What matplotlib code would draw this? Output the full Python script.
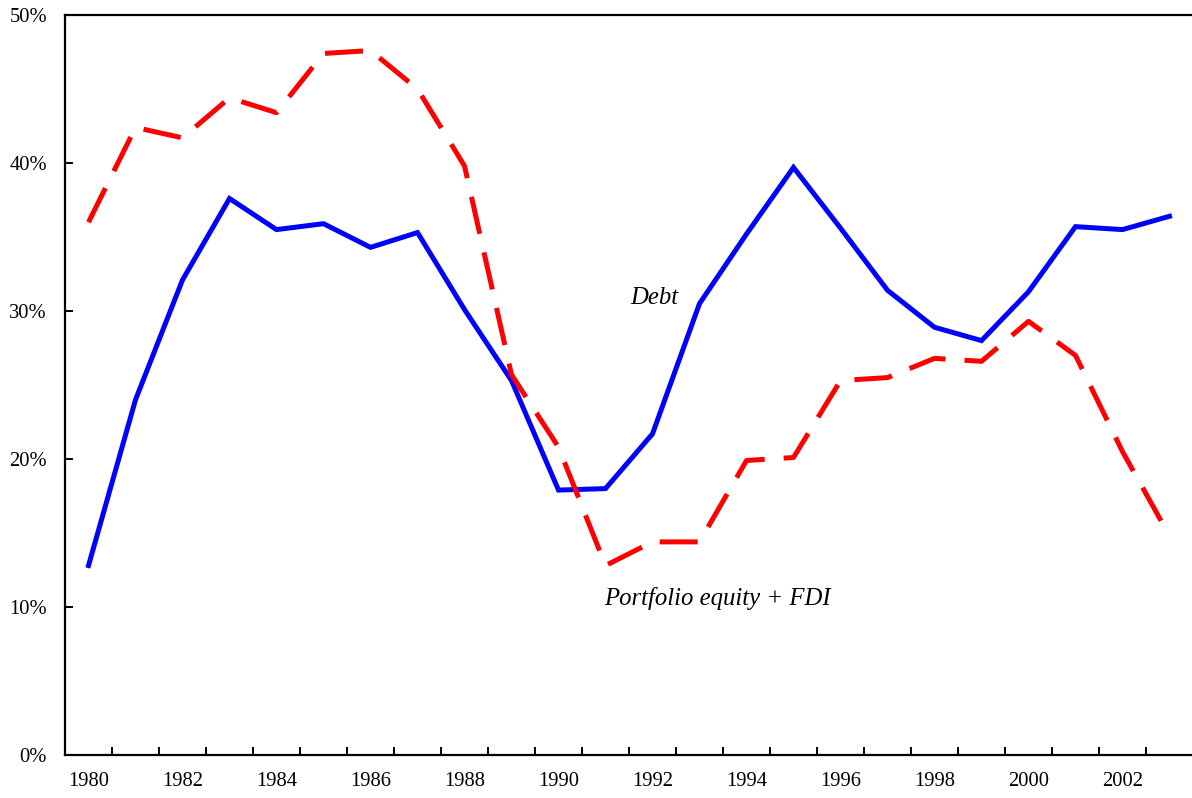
import matplotlib
matplotlib.use("Agg")
import matplotlib.pyplot as plt
from matplotlib.ticker import FixedLocator, FuncFormatter

years = list(range(1980, 2004))
debt = [12.8, 24.0, 32.1, 37.6, 35.5, 35.9, 34.3, 35.3, 30.1, 25.3, 17.9, 18.0,
        21.7, 30.5, 35.2, 39.7, 35.6, 31.4, 28.9, 28.0, 31.3, 35.7, 35.5, 36.4]
equity_fdi = [36.0, 42.4, 41.7, 44.4, 43.4, 47.4, 47.6, 45.0, 39.8, 25.7, 20.8, 12.8,
              14.4, 14.4, 19.9, 20.1, 25.3, 25.5, 26.8, 26.6, 29.3, 27.0, 20.5, 14.8]
year_labels = [str(y) for y in years]

plt.rcParams['font.family'] = ['Liberation Serif', 'DejaVu Serif']

W, H = 1192, 798
fig = plt.figure(figsize=(W / 100, H / 100), dpi=100)
ax = fig.add_axes([65 / W, (H - 755) / H, 1128 / W, 740 / H])

x = list(range(len(years)))
ax.plot(x, [v / 100 for v in debt], color='#0000FF', lw=3.6, solid_joinstyle='miter', zorder=3)
ax.plot(x, [v / 100 for v in equity_fdi], color='#FF0000', lw=3.6, linestyle=(0, (7.6, 3.8)),
        dash_capstyle='butt', zorder=3)

ax.set_xlim(-0.5, len(years) - 0.5)
ax.set_ylim(0, 0.5)

# y axis
ax.yaxis.set_major_locator(FixedLocator([0, 0.1, 0.2, 0.3, 0.4, 0.5]))
ax.yaxis.set_major_formatter(FuncFormatter(lambda v, p: f"{int(round(v * 100))}%"))
ax.tick_params(axis='y', direction='in', length=6, width=1.4, pad=13, labelsize=14.8)

# x axis: ticks at category boundaries, labels at even-year centers
ax.xaxis.set_major_locator(FixedLocator([i + 0.5 for i in range(len(years) - 1)]))
ax.xaxis.set_major_formatter(FuncFormatter(lambda v, p: ""))
label_pos = [i for i, y in enumerate(years) if y % 2 == 0]
ax.xaxis.set_minor_locator(FixedLocator(label_pos))
ax.xaxis.set_minor_formatter(FuncFormatter(lambda v, p: year_labels[int(round(v))]))
ax.tick_params(axis='x', which='major', direction='in', length=6, width=1.4)
ax.tick_params(axis='x', which='minor', length=0, pad=12, labelsize=14.8)

for s in ['left', 'bottom', 'top']:
    ax.spines[s].set_linewidth(1.6)
    ax.spines[s].set_color('black')
ax.spines['right'].set_visible(False)

ax.text(12.03, 0.309, 'Debt', fontsize=17.8, style='italic', ha='center', va='center')
ax.text(13.38, 0.1055, 'Portfolio equity + FDI', fontsize=17.8, style='italic',
        ha='center', va='center')

fig.savefig('out.png', dpi=100)
